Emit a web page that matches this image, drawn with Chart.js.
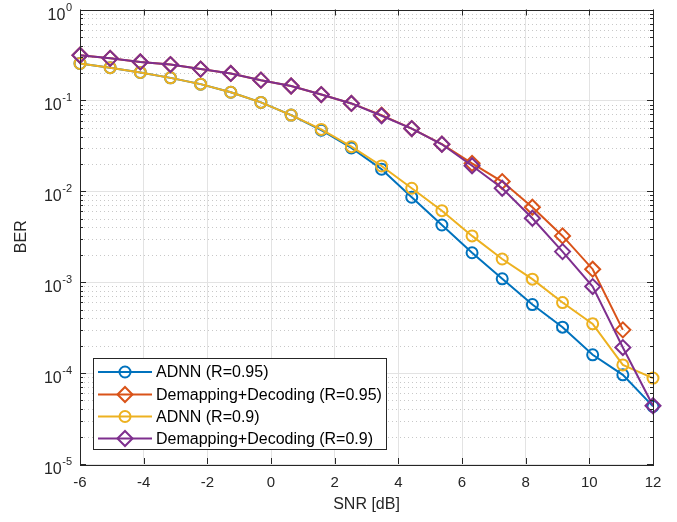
<!DOCTYPE html>
<html>
<head>
<meta charset="utf-8">
<script src="https://cdn.jsdelivr.net/npm/chart.js@4"></script>
<style>
  html, body { margin: 0; padding: 0; background: #fff; }
  #wrap { width: 677px; height: 522px; }
</style>
</head>
<body>
<div id="wrap"><canvas id="grafico" width="677" height="522"></canvas></div>
<script>
// ================= DADOS =================
const snr = [-6, -5.053, -4.105, -3.158, -2.211, -1.263, -0.316, 0.632, 1.579, 2.526,
             3.474, 4.421, 5.368, 6.316, 7.263, 8.211, 9.158, 10.105, 11.053, 12];

const adnn095 = [0.255, 0.229, 0.203, 0.177, 0.151, 0.123, 0.095, 0.069, 0.047, 0.030,
                 0.0175, 0.0086, 0.00426, 0.00211, 0.00109, 0.000568, 0.00032, 0.000159, 0.0000958, 0.000043];
const demap095 = [0.314, 0.29, 0.265, 0.248, 0.221, 0.198, 0.167, 0.144, 0.116, 0.0926,
                  0.069, 0.049, 0.033, 0.0203, 0.0128, 0.00667, 0.00323, 0.00139, 0.000299];
const adnn09 = [0.255, 0.229, 0.203, 0.177, 0.151, 0.123, 0.095, 0.069, 0.048, 0.031,
                0.019, 0.0108, 0.00612, 0.00323, 0.0018, 0.00108, 0.000597, 0.000348, 0.000123, 0.0000881];
const demap09 = [0.314, 0.29, 0.265, 0.248, 0.221, 0.198, 0.167, 0.144, 0.116, 0.0926,
                 0.0678, 0.049, 0.0329, 0.0191, 0.0108, 0.00505, 0.00217, 0.000895, 0.000191, 0.0000437];

const xTicks = [-6, -4, -2, 0, 2, 4, 6, 8, 10, 12];
const yDecades = [0, -1, -2, -3, -4, -5];

const nomes = ["ADNN (R=0.95)", "Demapping+Decoding (R=0.95)", "ADNN (R=0.9)", "Demapping+Decoding (R=0.9)"];
const cores = ["#0072BD", "#D95319", "#EDB120", "#7E2F8E"];
const marcadores = ["circle", "rectRot", "circle", "rectRot"];
const series = [adnn095, demap095, adnn09, demap09];

const FONTE = "'Liberation Sans', Arial, sans-serif";
const TEXTO = "#262626";

function pontos(valores) {
  return valores.map((v, i) => ({ x: snr[i], y: v }));
}

function raio(i) {
  return marcadores[i] === "circle" ? 5.5 : 7.5;
}

// ================= MOLDURA / GRADE / LEGENDA =================
const moldura = {
  id: "moldura",
  beforeDatasetsDraw(chart) {
    const { ctx, chartArea: a, scales: { y } } = chart;
    ctx.save();
    ctx.lineWidth = 1;
    yDecades.forEach(e => {
      if (e > -5) {
        for (let m = 2; m <= 9; m++) {
          const py = Math.round(y.getPixelForValue(m * Math.pow(10, e - 1))) + 0.5;
          ctx.strokeStyle = "#c8c8c8";
          ctx.setLineDash([1, 3]);
          ctx.beginPath(); ctx.moveTo(a.left, py); ctx.lineTo(a.right, py); ctx.stroke();
        }
      }
      const py = Math.round(y.getPixelForValue(Math.pow(10, e))) + 0.5;
      ctx.setLineDash([]);
      ctx.strokeStyle = "#e3e3e3";
      ctx.beginPath(); ctx.moveTo(a.left, py); ctx.lineTo(a.right, py); ctx.stroke();
    });
    ctx.restore();
  },
  afterDraw(chart) {
    const { ctx, chartArea: a, scales: { x, y } } = chart;
    ctx.save();
    // caixa
    ctx.strokeStyle = TEXTO;
    ctx.lineWidth = 1;
    ctx.setLineDash([]);
    ctx.strokeRect(Math.round(a.left) + 0.5, Math.round(a.top) + 0.5,
                   Math.round(a.right - a.left), Math.round(a.bottom - a.top));
    // ticks em x
    ctx.beginPath();
    xTicks.forEach(t => {
      const px = Math.round(x.getPixelForValue(t)) + 0.5;
      ctx.moveTo(px, a.bottom); ctx.lineTo(px, a.bottom - 6);
      ctx.moveTo(px, a.top); ctx.lineTo(px, a.top + 6);
    });
    // ticks em y (maiores e menores)
    yDecades.forEach(e => {
      const py = Math.round(y.getPixelForValue(Math.pow(10, e))) + 0.5;
      ctx.moveTo(a.left, py); ctx.lineTo(a.left + 6, py);
      ctx.moveTo(a.right, py); ctx.lineTo(a.right - 6, py);
      if (e > -5) {
        for (let m = 2; m <= 9; m++) {
          const pm = Math.round(y.getPixelForValue(m * Math.pow(10, e - 1))) + 0.5;
          ctx.moveTo(a.left, pm); ctx.lineTo(a.left + 3, pm);
          ctx.moveTo(a.right, pm); ctx.lineTo(a.right - 3, pm);
        }
      }
    });
    ctx.stroke();

    // rótulos do eixo y: 10 com expoente
    ctx.fillStyle = TEXTO;
    ctx.textBaseline = "alphabetic";
    ctx.textAlign = "right";
    yDecades.forEach(e => {
      const py = y.getPixelForValue(Math.pow(10, e));
      const exp = e === 0 ? "0" : "-" + (-e);
      ctx.font = "11px " + FONTE;
      const w = ctx.measureText(exp).width;
      ctx.fillText(exp, 72, py + 1);
      ctx.font = "16px " + FONTE;
      ctx.fillText("10", 72 - w - 0.5, py + 10);
    });

    // legenda
    const bx = 93.5, by = 358.5, bw = 293, bh = 91;
    ctx.fillStyle = "#ffffff";
    ctx.fillRect(bx, by, bw, bh);
    ctx.strokeStyle = "#262626";
    ctx.lineWidth = 1;
    ctx.strokeRect(bx, by, bw, bh);
    const linhas = [372, 394.5, 416.5, 438.5];
    ctx.font = "16px " + FONTE;
    ctx.textAlign = "left";
    ctx.textBaseline = "middle";
    nomes.forEach((n, i) => {
      const ly = linhas[i];
      ctx.strokeStyle = cores[i];
      ctx.lineWidth = 2;
      ctx.beginPath(); ctx.moveTo(98, ly); ctx.lineTo(152, ly); ctx.stroke();
      ctx.fillStyle = "rgba(0,0,0,0)";
      Chart.helpers.drawPoint(ctx, {
        pointStyle: marcadores[i],
        radius: raio(i),
        borderWidth: 2,
        rotation: 0
      }, 125, ly);
      ctx.fillStyle = "#000000";
      ctx.fillText(n, 156, ly + 1);
    });
    ctx.restore();
  }
};

// ================= GRÁFICO =================
Chart.defaults.font.family = FONTE;
Chart.defaults.color = TEXTO;

const datasets = series.map((s, i) => ({
  label: nomes[i],
  data: pontos(s),
  borderColor: cores[i],
  backgroundColor: "rgba(0,0,0,0)",
  borderWidth: 2,
  pointStyle: marcadores[i],
  pointRadius: raio(i),
  pointHoverRadius: raio(i),
  pointBorderWidth: 2,
  pointBackgroundColor: "rgba(0,0,0,0)",
  pointBorderColor: cores[i],
  tension: 0,
  clip: false,
  order: 4 - i
}));

new Chart(document.getElementById("grafico"), {
  type: "line",
  data: { datasets },
  options: {
    responsive: false,
    animation: false,
    events: [],
    layout: { padding: { top: 9, right: 24, left: 0, bottom: 0 } },
    plugins: {
      legend: { display: false },
      tooltip: { enabled: false }
    },
    scales: {
      x: {
        type: "linear",
        min: -6,
        max: 12,
        afterBuildTicks: s => { s.ticks = xTicks.map(v => ({ value: v })); },
        afterFit: s => { s.height = 58; },
        ticks: { padding: 10, color: TEXTO, font: { size: 15 }, maxRotation: 0 },
        grid: { color: "#e3e3e3", drawTicks: false },
        border: { display: false },
        title: { display: true, text: "SNR [dB]", color: TEXTO, font: { size: 16 }, padding: { top: 8, bottom: 8 } }
      },
      y: {
        type: "logarithmic",
        min: 1e-5,
        max: 1,
        afterFit: s => { s.width = 80; },
        ticks: { display: false },
        grid: { display: false },
        border: { display: false },
        title: { display: true, text: "BER", color: TEXTO, font: { size: 16 }, padding: { top: 12, bottom: 12 } }
      }
    }
  },
  plugins: [moldura]
});
</script>
</body>
</html>
